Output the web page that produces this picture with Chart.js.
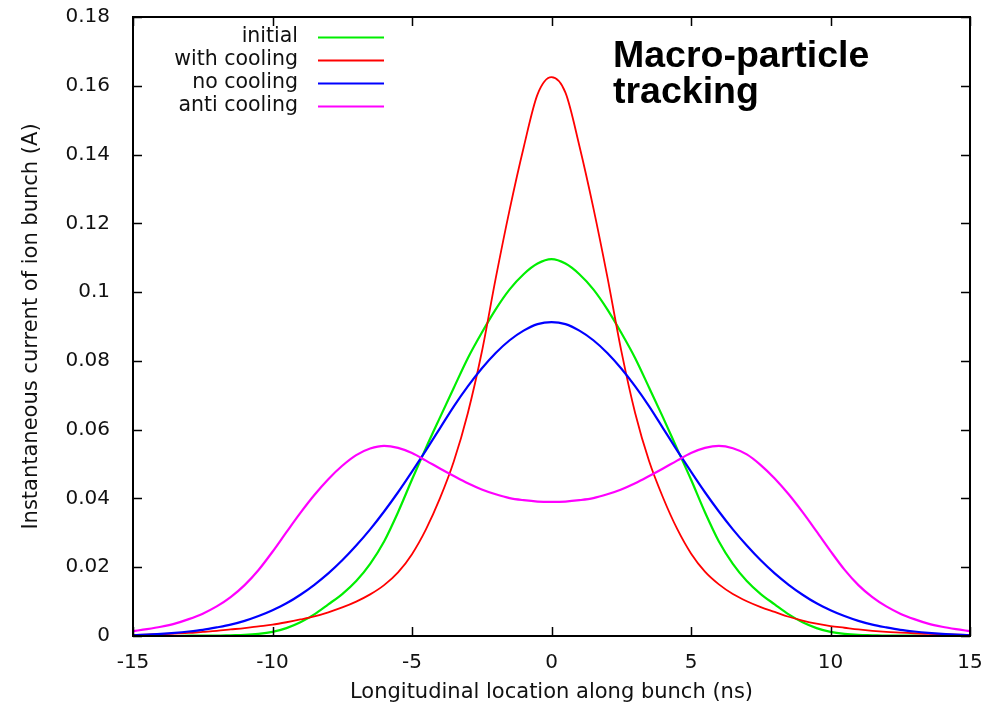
<!DOCTYPE html>
<html>
<head>
<meta charset="utf-8">
<script src="https://cdn.jsdelivr.net/npm/chart.js@4.4.1/dist/chart.umd.min.js"></script>
<style>
  html, body { margin: 0; padding: 0; background: #fff; }
  #wrap { position: relative; width: 991px; height: 705px; }
  #note {
    position: absolute; left: 613px; top: 36px;
    font-family: "Liberation Sans", Arial, sans-serif; font-weight: bold;
    font-size: 37.5px; line-height: 36px; color: #000; white-space: nowrap;
  }
</style>
</head>
<body>
<div id="wrap">
  <canvas id="c" width="991" height="705"></canvas>
  <div id="note">Macro-particle<br>tracking</div>
</div>
<script>
// ---- data ----
const xValues = [-15,-14.5,-14,-13.5,-13,-12.5,-12,-11.5,-11,-10.5,-10,-9.5,-9,-8.5,-8,-7.5,-7,-6.5,-6,-5.5,-5,-4.5,-4,-3.5,-3,-2.5,-2,-1.5,-1,-0.5,0,0.5,1,1.5,2,2.5,3,3.5,4,4.5,5,5.5,6,6.5,7,7.5,8,8.5,9,9.5,10,10.5,11,11.5,12,12.5,13,13.5,14,14.5,15];

const initial = [0,0,0,0,0.0001,0.0001,0.0001,0.0002,0.0003,0.0006,0.0012,0.0023,0.0040,0.0063,0.0092,0.0122,0.0160,0.0210,0.0275,0.0360,0.0455,0.0547,0.0635,0.0722,0.0808,0.0882,0.0950,0.1008,0.1052,0.1083,0.1096,0.1083,0.1052,0.1008,0.0950,0.0882,0.0808,0.0722,0.0635,0.0545,0.0455,0.0360,0.0275,0.0210,0.0160,0.0122,0.0092,0.0063,0.0040,0.0023,0.0012,0.0006,0.0003,0.0002,0.0001,0.0001,0.0001,0,0,0,0];

const withCooling = [0.0003,0.0004,0.0005,0.0007,0.0009,0.0012,0.0015,0.0019,0.0023,0.0028,0.0033,0.0040,0.0048,0.0057,0.0069,0.0083,0.0100,0.0121,0.0148,0.0185,0.0238,0.0310,0.0400,0.0508,0.0648,0.0825,0.1040,0.1240,0.1420,0.1575,0.1625,0.1580,0.1425,0.1245,0.1045,0.0830,0.0648,0.0508,0.0402,0.0312,0.0240,0.0187,0.0150,0.0122,0.0101,0.0084,0.0070,0.0056,0.0045,0.0036,0.0029,0.0024,0.0019,0.0015,0.0012,0.0010,0.0008,0.0006,0.0005,0.0004,0.0003];

const noCooling = [0.0002,0.0004,0.0006,0.0009,0.0013,0.0018,0.0025,0.0033,0.0044,0.0058,0.0075,0.0095,0.0120,0.0149,0.0182,0.0220,0.0263,0.0310,0.0362,0.0418,0.0478,0.0540,0.0604,0.0668,0.0726,0.0778,0.0823,0.0860,0.0888,0.0907,0.0913,0.0907,0.0888,0.0860,0.0823,0.0778,0.0726,0.0668,0.0604,0.0540,0.0478,0.0418,0.0362,0.0310,0.0263,0.0220,0.0182,0.0149,0.0120,0.0095,0.0075,0.0058,0.0044,0.0033,0.0025,0.0018,0.0013,0.0009,0.0006,0.0004,0.0002];

const antiCooling = [0.0014,0.0020,0.0027,0.0036,0.0049,0.0065,0.0086,0.0113,0.0148,0.0192,0.0245,0.0302,0.0358,0.0410,0.0456,0.0495,0.0526,0.0545,0.0553,0.0547,0.0532,0.0510,0.0487,0.0465,0.0444,0.0426,0.0412,0.0401,0.0395,0.0391,0.0390,0.0391,0.0395,0.0401,0.0412,0.0426,0.0444,0.0465,0.0487,0.0510,0.0532,0.0547,0.0553,0.0546,0.0528,0.0497,0.0458,0.0412,0.0360,0.0304,0.0247,0.0193,0.0148,0.0113,0.0086,0.0065,0.0049,0.0036,0.0027,0.0020,0.0014];

const seriesNames = ["initial", "with cooling", "no cooling", "anti cooling"];
const xTicks = [-15, -10, -5, 0, 5, 10, 15];
const yTicks = [0, 0.02, 0.04, 0.06, 0.08, 0.1, 0.12, 0.14, 0.16, 0.18];
const xTitle = "Longitudinal location along bunch (ns)";
const yTitle = "Instantaneous current of ion bunch (A)";

// ---- build ----
const colors = ["#00ee00", "#ff0000", "#0000ff", "#ff00ff"];
const widths = [2.2, 1.8, 2.2, 2.2];
const seriesValues = [initial, withCooling, noCooling, antiCooling];
const datasets = seriesValues.map((vals, i) => ({
  label: seriesNames[i],
  data: vals.map((v, k) => ({ x: xValues[k], y: v })),
  borderColor: colors[i],
  backgroundColor: colors[i],
  borderWidth: widths[i],
  pointRadius: 0,
  fill: false,
  cubicInterpolationMode: 'monotone',
  order: 4 - i
}));

const FONT = '"DejaVu Sans", sans-serif';
const TXT = '#111';

const framePlugin = {
  id: 'frame',
  afterDatasetsDraw(chart) {
    const { ctx, chartArea: a, scales } = chart;
    ctx.save();
    ctx.strokeStyle = '#000';
    ctx.lineWidth = 2;
    ctx.strokeRect(a.left, a.top, a.right - a.left, a.bottom - a.top);
    ctx.lineWidth = 1.5;
    const L = 9;
    ctx.beginPath();
    xTicks.forEach(v => {
      const p = Math.round(scales.x.getPixelForValue(v)) + 0.5;
      ctx.moveTo(p, a.bottom); ctx.lineTo(p, a.bottom - L);
      ctx.moveTo(p, a.top); ctx.lineTo(p, a.top + L);
    });
    yTicks.forEach(v => {
      const p = Math.round(scales.y.getPixelForValue(v)) + 0.5;
      ctx.moveTo(a.left, p); ctx.lineTo(a.left + L, p);
      ctx.moveTo(a.right, p); ctx.lineTo(a.right - L, p);
    });
    ctx.stroke();

    // key (legend)
    ctx.font = '20.5px ' + FONT;
    ctx.textAlign = 'right';
    ctx.textBaseline = 'middle';
    const rows = [37, 60, 83, 106];
    chart.data.datasets.forEach((ds, i) => {
      const y = rows[i];
      ctx.fillStyle = TXT;
      ctx.fillText(ds.label, 298, y);
      ctx.strokeStyle = ds.borderColor;
      ctx.lineWidth = 2;
      ctx.beginPath();
      ctx.moveTo(318, y + 0.5); ctx.lineTo(384, y + 0.5);
      ctx.stroke();
    });
    ctx.restore();
  }
};

new Chart(document.getElementById('c'), {
  type: 'line',
  data: { datasets },
  options: {
    responsive: false,
    animation: false,
    events: [],
    layout: { padding: { top: 17, right: 21, left: 0, bottom: 0 } },
    plugins: { legend: { display: false }, tooltip: { enabled: false } },
    scales: {
      x: {
        type: 'linear', min: -15, max: 15,
        afterFit: s => { s.height = 69; s.paddingLeft = 0; s.paddingRight = 0; },
        afterBuildTicks: s => { s.ticks = xTicks.map(v => ({ value: v })); },
        grid: { display: false, drawTicks: false },
        border: { display: false },
        ticks: { font: { family: FONT, size: 20 }, color: TXT, padding: 15, maxRotation: 0, autoSkip: false },
        title: { display: true, text: xTitle, font: { family: FONT, size: 21 }, color: TXT, padding: { top: 0, bottom: 0 } }
      },
      y: {
        type: 'linear', min: 0, max: 0.18,
        afterFit: s => { s.width = 133; s.paddingTop = 0; s.paddingBottom = 0; },
        afterBuildTicks: s => { s.ticks = yTicks.map(v => ({ value: v })); },
        grid: { display: false, drawTicks: false },
        border: { display: false },
        ticks: {
          font: { family: FONT, size: 20 }, color: TXT, padding: 23, autoSkip: false,
          callback: v => String(Number(v.toFixed(2)))
        },
        title: { display: true, text: yTitle, font: { family: FONT, size: 21 }, color: TXT, padding: { top: 19, bottom: 0 } }
      }
    }
  },
  plugins: [framePlugin]
});
</script>
</body>
</html>
